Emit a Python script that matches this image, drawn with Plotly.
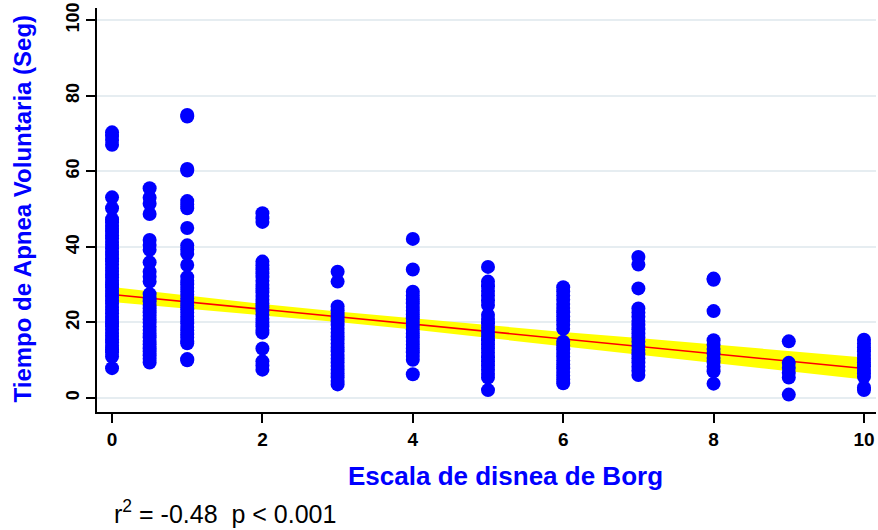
import plotly.graph_objects as go

# ---------------- data ----------------
borg_levels = [0, 0.5, 1, 2, 3, 4, 5, 6, 7, 8, 9, 10]

apnea_b0 = [70.3, 69.3, 68.3, 67.0, 53.1, 50.2, 47.3, 46.5, 45.6, 44.8, 43.9, 43.0,
            42.2, 41.3, 40.5, 39.6, 38.7, 37.9, 37.0, 36.2, 35.3, 34.4, 33.6, 32.7,
            31.9, 31.0, 30.1, 29.3, 28.4, 27.6, 26.7, 25.8, 25.0, 24.1, 23.3, 22.4,
            21.5, 20.7, 19.8, 19.0, 18.1, 17.2, 16.4, 15.5, 14.7, 13.8, 12.9, 12.1,
            11.0, 7.9]
apnea_b05 = [55.5, 53.0, 51.4, 48.7, 41.8, 40.5, 39.2, 35.9, 33.4, 32.1, 30.8, 27.5,
             26.5, 25.6, 24.6, 23.7, 22.7, 21.8, 20.8, 19.9, 18.9, 18.0, 17.0, 16.1,
             15.1, 14.2, 13.2, 12.3, 11.3, 10.4, 9.4]
apnea_b1 = [74.9, 74.5, 60.6, 60.2, 52.1, 51.2, 50.2, 45.0, 40.4, 39.3, 38.2, 35.2,
            32.0, 31.0, 30.1, 29.2, 28.2, 27.3, 26.3, 25.4, 24.5, 23.5, 22.6, 21.6,
            20.7, 19.8, 18.8, 17.9, 16.9, 16.0, 15.1, 14.5, 10.3, 10.0]
apnea_b2 = [48.9, 47.6, 46.6, 36.1, 35.1, 34.1, 33.0, 32.0, 31.0, 30.0, 29.0, 28.0,
            27.0, 26.0, 25.0, 24.0, 23.0, 22.0, 21.0, 20.0, 19.0, 18.0, 17.3, 13.1,
            9.7, 8.6, 7.5]
apnea_b3 = [33.4, 30.8, 24.2, 23.2, 22.2, 21.3, 20.3, 19.3, 18.3, 17.3, 16.3, 15.4,
            14.4, 13.4, 12.4, 11.4, 10.4, 9.4, 8.5, 7.5, 6.5, 5.5, 4.5, 3.6]
apnea_b4 = [42.1, 34.0, 28.1, 27.1, 26.1, 25.1, 24.1, 23.1, 22.1, 21.1, 20.1, 19.1,
            18.1, 17.1, 16.1, 15.1, 14.1, 13.1, 12.1, 11.1, 10.1, 6.3]
apnea_b5 = [34.7, 30.8, 29.6, 28.3, 27.1, 25.8, 24.6, 22.0, 20.9, 19.8, 18.6, 17.5,
            16.4, 15.3, 14.2, 13.1, 12.0, 10.8, 9.7, 8.6, 7.5, 6.4, 5.4, 2.1]
apnea_b6 = [29.3, 28.2, 27.1, 26.0, 24.9, 23.8, 22.7, 21.6, 20.5, 19.4, 18.3, 14.9,
            13.9, 12.9, 11.9, 10.9, 9.9, 8.9, 7.9, 6.9, 5.9, 4.9, 3.9]
apnea_b7 = [37.3, 35.3, 29.0, 23.7, 22.6, 21.5, 20.4, 19.3, 18.2, 17.1, 16.0, 14.9,
            13.8, 12.7, 11.6, 10.5, 9.4, 8.3, 7.2, 6.1]
apnea_b8 = [31.6, 31.3, 23.0, 15.3, 14.1, 13.0, 11.8, 10.6, 9.5, 8.3, 7.1, 3.8]
apnea_b9 = [15.0, 9.3, 8.0, 6.7, 5.4, 0.9]
apnea_b10 = [15.4, 14.4, 13.4, 12.4, 11.4, 10.4, 9.4, 8.4, 7.4, 6.5, 5.6, 2.8, 2.1]

apnea_by_level = [apnea_b0, apnea_b05, apnea_b1, apnea_b2, apnea_b3, apnea_b4,
                  apnea_b5, apnea_b6, apnea_b7, apnea_b8, apnea_b9, apnea_b10]

# fitted line and its confidence band
fit_x = [0, 10]
fit_y = [27.4, 7.8]
band_x = [0, 1, 2, 3, 4, 5, 6, 7, 8, 9, 10]
band_upper = [29.4, 27.1, 24.9, 22.9, 21.1, 19.3, 17.5, 15.9, 14.2, 12.5, 10.7]
band_lower = [25.4, 23.7, 22.0, 20.1, 18.1, 15.9, 13.7, 11.5, 9.3, 7.1, 4.9]

x_ticks = [0, 2, 4, 6, 8, 10]
y_ticks = [0, 20, 40, 60, 80, 100]

x_title = "Escala de disnea de Borg"
y_title = "Tiempo de Apnea Voluntaria (Seg)"
stats_note = "r<sup>2</sup> = -0.48\u00a0\u00a0p &lt; 0.001"

# ---------------- build figure ----------------
pts_x, pts_y = [], []
for lvl, vals in zip(borg_levels, apnea_by_level):
    pts_x.extend([lvl] * len(vals))
    pts_y.extend(vals)

BLUE = "#0000FF"
FONT = "Liberation Sans, Arial, Helvetica, sans-serif"

fig = go.Figure()
fig.add_trace(go.Scatter(x=band_x, y=band_lower, mode="lines",
                         line=dict(width=0, color="rgba(0,0,0,0)"),
                         hoverinfo="skip", showlegend=False))
fig.add_trace(go.Scatter(x=band_x, y=band_upper, mode="lines", fill="tonexty",
                         fillcolor="#FFFF00", line=dict(width=0, color="rgba(0,0,0,0)"),
                         hoverinfo="skip", showlegend=False))
fig.add_trace(go.Scatter(x=fit_x, y=fit_y, mode="lines",
                         line=dict(color="#FF0000", width=1.6), showlegend=False))
fig.add_trace(go.Scatter(x=pts_x, y=pts_y, mode="markers",
                         marker=dict(color=BLUE, size=14, line=dict(width=0)),
                         showlegend=False))

W, H = 878, 530
L, R, T, B = 97, 2, 8, 118
pw, ph = W - L - R, H - T - B

def px_to_paper_x(px):
    return (px - L) / pw

def px_to_paper_y(py):
    return (H - B - py) / ph

fig.update_layout(
    width=W, height=H,
    margin=dict(l=L, r=R, t=T, b=B, pad=0),
    paper_bgcolor="white", plot_bgcolor="white",
    font=dict(family=FONT, color="black"),
    xaxis=dict(range=[-0.2, 10.16], tickvals=x_ticks, showgrid=False, zeroline=False,
               showline=True, linecolor="black", linewidth=2,
               ticks="outside", ticklen=9, tickwidth=1.5, tickcolor="black",
               tickfont=dict(size=19, family=FONT, weight="bold", color="black")),
    yaxis=dict(range=[-3.7, 103.2], tickvals=y_ticks, showgrid=True,
               gridcolor="#E6EDF1", gridwidth=2, zeroline=False,
               showline=True, linecolor="black", linewidth=2,
               ticks="outside", ticklen=9, tickwidth=1.5, tickcolor="black",
               tickangle=-90,
               tickfont=dict(size=18, family=FONT, weight="bold", color="black")),
    annotations=[
        dict(text=x_title, xref="paper", yref="paper",
             x=px_to_paper_x(505.5), y=px_to_paper_y(476),
             xanchor="center", yanchor="middle", showarrow=False,
             font=dict(size=26, family=FONT, weight="bold", color=BLUE)),
        dict(text=y_title, xref="paper", yref="paper", textangle=-90,
             x=px_to_paper_x(22), y=px_to_paper_y(208.5),
             xanchor="center", yanchor="middle", showarrow=False,
             font=dict(size=24, family=FONT, weight="bold", color=BLUE)),
        dict(text=stats_note, xref="paper", yref="paper",
             x=px_to_paper_x(112), y=px_to_paper_y(512),
             xanchor="left", yanchor="middle", showarrow=False,
             font=dict(size=25, family=FONT, color="black")),
    ],
)

fig.write_html("out.html", config={"displayModeBar": False},
               post_script="document.body.style.margin='0';document.body.style.overflow='hidden';")
